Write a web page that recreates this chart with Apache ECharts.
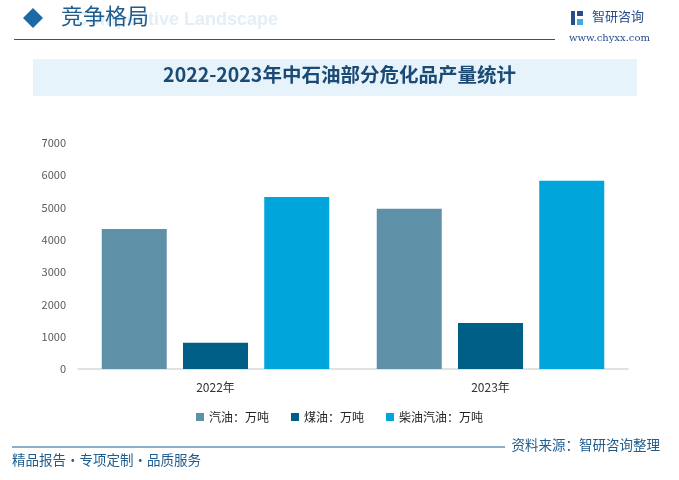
<!DOCTYPE html>
<html><head><meta charset="utf-8">
<script src="https://cdn.jsdelivr.net/npm/echarts@6/dist/echarts.min.js"></script>
<style>html,body{margin:0;padding:0;background:#fff}#c{width:679px;height:480px}</style>
</head><body><div id="c"></div>
<script>
const categories = ['2022年', '2023年'];
const seriesNames = ['汽油：万吨', '煤油：万吨', '柴油汽油：万吨'];
const gasolineVals = [4340, 4960];
const keroseneVals = [810, 1425];
const dieselVals = [5330, 5830];
const yTicks = [0, 1000, 2000, 3000, 4000, 5000, 6000, 7000];
const colors = ['#5E91A8', '#005F86', '#00A5DC'];
const dataSets = [gasolineVals, keroseneVals, dieselVals];

const chart = echarts.init(document.getElementById('c'));
const font = '"Noto Sans CJK SC", "Microsoft YaHei", sans-serif';
chart.setOption({
  animation: false,
  textStyle: { fontFamily: font },
  grid: { left: 78, right: 51, top: 143, bottom: 111 },
  legend: {
    top: 406, left: 'center', itemWidth: 8, itemHeight: 8, itemGap: 22,
    icon: 'rect',
    textStyle: { color: '#222', fontSize: 12, fontFamily: font },
    data: seriesNames
  },
  xAxis: {
    type: 'category', data: categories,
    axisLine: { lineStyle: { color: '#D9D9D9', width: 1.5 } },
    axisTick: { show: false },
    axisLabel: { color: '#333', fontSize: 12, margin: 12 }
  },
  yAxis: {
    type: 'value', min: yTicks[0], max: yTicks[yTicks.length - 1], interval: 1000,
    splitLine: { show: false },
    axisLine: { show: false }, axisTick: { show: false },
    axisLabel: { color: '#595959', fontSize: 11, margin: 12, formatter: v => String(v) }
  },
  series: seriesNames.map((n, i) => ({
    name: n, type: 'bar', data: dataSets[i], barWidth: 65, barGap: '25%',
    itemStyle: { color: colors[i] }
  })),
  graphic: [
    // header
    { type: 'text', left: 76, top: 11, style: { text: 'Competitive Landscape', fill: '#E3EEF7', font: 'bold 18px Arial, sans-serif' }, z: 1 },
    { type: 'polygon', shape: { points: [[33, 8], [43, 18], [33, 28], [23, 18]] }, style: { fill: '#1B6AA5' } },
    { type: 'text', left: 61, top: 5, style: { text: '竞争格局', fill: '#1F5C8E', font: '22px ' + font }, z: 2 },
    { type: 'line', shape: { x1: 14, y1: 39.5, x2: 555, y2: 39.5 }, style: { stroke: '#1F5C8E', lineWidth: 1.2 } },
    { type: 'rect', shape: { x: 571, y: 11, width: 4, height: 14 }, style: { fill: '#2B4C8C' } },
    { type: 'rect', shape: { x: 577, y: 11, width: 6, height: 5 }, style: { fill: '#2B4C8C' } },
    { type: 'rect', shape: { x: 577, y: 19, width: 6, height: 6 }, style: { fill: '#3FA9E0' } },
    { type: 'text', left: 592, top: 10, style: { text: '智研咨询', fill: '#2B4C8C', font: '13px ' + font } },
    { type: 'text', left: 569, top: 33, style: { text: 'www.chyxx.com', fill: '#2B4C8C', font: '10px "DejaVu Serif", serif' } },
    // title box
    { type: 'rect', shape: { x: 33, y: 59, width: 604, height: 37 }, style: { fill: '#E6F3FB' } },
    { type: 'text', left: 'center', top: 65, style: { text: '2022-2023年中石油部分危化品产量统计', fill: '#1B4A75', font: 'bold 19.5px ' + font } },
    // footer
    { type: 'line', shape: { x1: 12, y1: 447, x2: 505, y2: 447 }, style: { stroke: '#1F5C8E', lineWidth: 1.2 } },
    { type: 'text', left: 12, top: 453, style: { text: '精品报告・专项定制・品质服务', fill: '#1F5C8E', font: '13.5px ' + font } },
    { type: 'text', right: 19, top: 438, style: { text: '资料来源：智研咨询整理', fill: '#1F5C8E', font: '13.5px ' + font } }
  ]
});
</script></body></html>
